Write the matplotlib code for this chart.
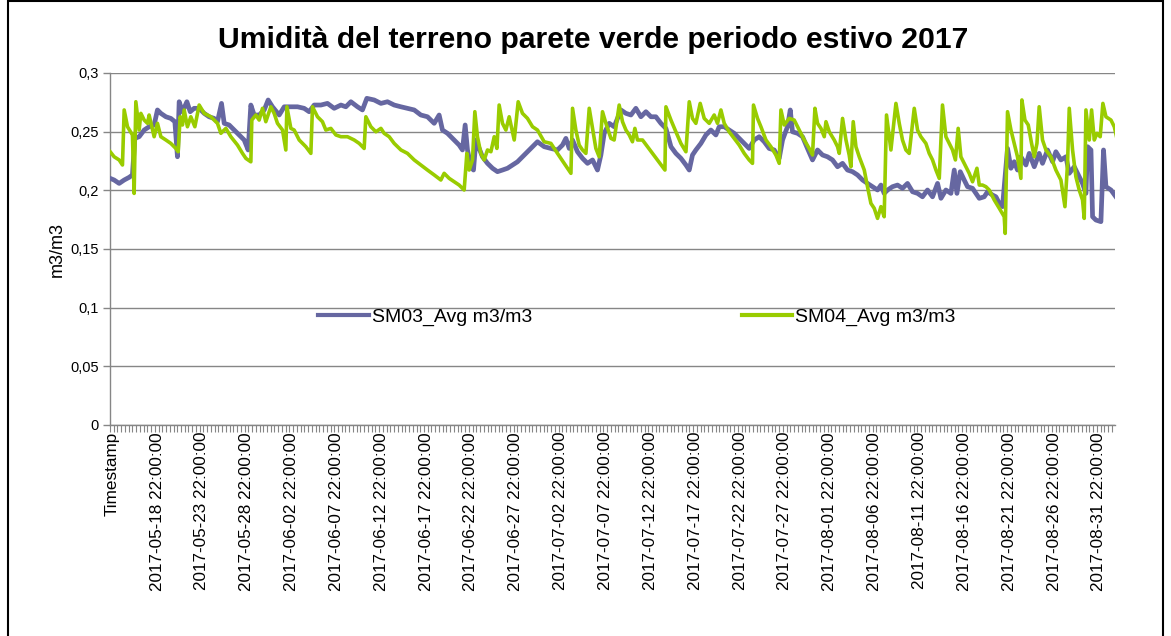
import matplotlib
matplotlib.use("Agg")
import matplotlib.pyplot as plt
from matplotlib.patches import Rectangle

plt.rcParams['font.family'] = ['Liberation Sans', 'DejaVu Sans']

TITLE = "Umidità del terreno parete verde periodo estivo 2017"
Y_LABEL = "m3/m3"
SERIES_NAMES = ["SM03_Avg m3/m3", "SM04_Avg m3/m3"]
SERIES_COLORS = ["#6667a1", "#99cc00"]

# category labels (every 5 days), x measured in days from the "Timestamp" category
X_LABELS = ["Timestamp",
            "2017-05-18 22:00:00", "2017-05-23 22:00:00", "2017-05-28 22:00:00",
            "2017-06-02 22:00:00", "2017-06-07 22:00:00", "2017-06-12 22:00:00",
            "2017-06-17 22:00:00", "2017-06-22 22:00:00", "2017-06-27 22:00:00",
            "2017-07-02 22:00:00", "2017-07-07 22:00:00", "2017-07-12 22:00:00",
            "2017-07-17 22:00:00", "2017-07-22 22:00:00", "2017-07-27 22:00:00",
            "2017-08-01 22:00:00", "2017-08-06 22:00:00", "2017-08-11 22:00:00",
            "2017-08-16 22:00:00", "2017-08-21 22:00:00", "2017-08-26 22:00:00",
            "2017-08-31 22:00:00"]
X_LABEL_DAYS = [0, 5, 10, 15, 20, 25, 30, 35, 40, 45, 50, 55,
                60, 65, 70, 75, 80, 85, 90, 95, 100, 105, 110]

Y_TICKS = [0, 0.05, 0.1, 0.15, 0.2, 0.25, 0.3]
Y_TICK_LABELS = ["0", "0,05", "0,1", "0,15", "0,2", "0,25", "0,3"]

# SM03
sm03_days = [-0.22, 0.22, 0.78, 1.34, 1.90, 2.26, 2.53, 3.01, 3.57, 4.12, 4.68, 5.05,
             5.43, 5.99, 6.54, 6.99, 7.28, 7.47, 7.84, 8.33, 8.70, 9.14, 9.70, 10.26,
             10.81, 11.37, 11.74, 12.19, 12.49, 13.04, 13.60, 14.16, 14.72, 15.16, 15.46,
             15.83, 16.39, 16.95, 17.39, 17.87, 18.62, 19.18, 19.92, 20.66, 21.40, 21.96,
             22.52, 23.27, 24.00, 24.75, 25.50, 26.05, 26.61, 27.35, 27.90, 28.39, 29.21,
             29.96, 30.69, 31.44, 32.19, 32.92, 33.67, 34.41, 35.15, 35.90, 36.45, 36.82,
             37.38, 38.13, 38.68, 39.05, 39.35, 39.61, 39.99, 40.28, 40.55, 40.91, 41.28,
             41.84, 42.40, 42.95, 43.51, 44.07, 44.63, 45.18, 45.74, 46.30, 46.86, 47.41,
             48.16, 48.91, 49.64, 50.20, 50.58, 50.95, 51.32, 51.87, 52.43, 52.99, 53.55,
             54.10, 54.48, 54.85, 55.41, 55.96, 56.71, 57.27, 57.83, 58.38, 58.94, 59.50,
             60.06, 60.61, 61.17, 61.73, 62.29, 62.84, 63.40, 63.96, 64.33, 64.69, 65.07,
             65.63, 66.19, 66.74, 67.30, 67.67, 68.23, 68.78, 69.34, 69.90, 70.46, 71.01,
             71.57, 72.13, 72.69, 73.24, 73.80, 74.36, 74.73, 75.28, 75.59, 75.84, 76.40,
             76.96, 77.51, 78.07, 78.63, 79.19, 79.74, 80.30, 80.86, 81.42, 81.97, 82.53,
             83.09, 83.65, 84.20, 84.76, 85.32, 85.70, 86.06, 86.44, 86.99, 87.55, 88.10,
             88.66, 89.22, 89.78, 90.33, 90.89, 91.45, 92.01, 92.39, 92.94, 93.50, 93.87,
             94.17, 94.54, 94.98, 95.35, 95.91, 96.29, 96.66, 97.21, 97.58, 98.14, 98.52,
             98.89, 99.25, 99.81, 100.19, 100.56, 100.92, 101.30, 101.86, 102.23, 102.79,
             103.34, 103.71, 104.27, 104.83, 105.20, 105.76, 106.32, 106.69, 107.25, 107.80,
             108.17, 108.55, 108.73, 109.11, 109.29, 109.66, 110.22, 110.51, 110.78, 111.34,
             111.89]
sm03_vals = [.2102, .2088, .2059, .2088, .2111, .2131, .2443, .2457, .2514, .2542, .2557, .2685,
             .2656, .2627, .2613, .2585, .2286, .2755, .2670, .2755, .2670, .2699, .2699, .2656,
             .2627, .2613, .2585, .2741, .2571, .2557, .2514, .2472, .2429, .2344, .2727,
             .2642, .2642, .2685, .2770, .2712, .2642, .2712, .2712, .2712, .2699, .2670,
             .2727, .2727, .2741, .2699, .2727, .2712, .2755, .2712, .2685, .2784, .2770,
             .2741, .2755, .2727, .2712, .2699, .2685, .2642, .2627, .2571, .2642, .2514,
             .2486, .2429, .2386, .2344, .2557, .2344, .2201, .2173, .2429, .2357, .2286,
             .2230, .2188, .2159, .2173, .2188, .2216, .2243, .2286, .2329, .2372, .2414,
             .2372, .2357, .2344, .2386, .2443, .2357, .2429, .2329, .2273, .2230, .2259,
             .2173, .2301, .2486, .2571, .2542, .2685, .2656, .2642, .2699, .2627, .2670,
             .2627, .2627, .2571, .2528, .2372, .2315, .2273, .2216, .2173, .2301, .2344,
             .2400, .2472, .2514, .2472, .2542, .2542, .2514, .2486, .2443, .2400, .2357,
             .2429, .2457, .2414, .2357, .2344, .2273, .2429, .2542, .2685, .2499, .2486,
             .2457, .2357, .2259, .2344, .2301, .2286, .2259, .2201, .2230, .2173, .2159,
             .2131, .2088, .2059, .2031, .2003, .2045, .1974, .2003, .2031, .2045, .2017,
             .2059, .1988, .1974, .1945, .2003, .1945, .2059, .1932, .2003, .1974, .2173,
             .1974, .2159, .2088, .2031, .2017, .1974, .1932, .1945, .1988, .1960, .1945,
             .1889, .1861, .2357, .2188, .2244, .2173, .2286, .2216, .2315, .2201,
             .2315, .2230, .2344, .2244, .2329, .2259, .2286, .2145, .2201, .2116,
             .2059, .1974, .2372, .2344, .1775, .1747, .1733, .2344, .2031, .2003,
             .1945]

# SM04
sm04_days = [-0.22, 0.22, 0.78, 1.15, 1.34, 1.71, 2.26, 2.45, 2.64, 3.01, 3.20, 3.57, 3.94,
             4.12, 4.68, 5.05, 5.43, 5.99, 6.54, 7.10, 7.36, 7.58, 7.84, 8.03, 8.39, 8.77,
             9.22, 9.70, 10.26, 11.00, 11.74, 12.12, 12.68, 13.23, 13.97, 14.53, 14.91,
             15.46, 15.57, 16.02, 16.39, 16.76, 17.13, 17.69, 18.06, 18.43, 18.99, 19.36,
             19.48, 19.92, 20.29, 20.85, 21.59, 22.15, 22.33, 22.89, 23.44, 23.82, 24.38,
             24.94, 25.50, 26.23, 26.98, 27.54, 28.09, 28.28, 28.84, 29.40, 29.96, 30.32,
             30.88, 31.44, 32.19, 32.92, 33.67, 34.41, 35.15, 35.90, 36.64, 37.01, 37.57,
             38.13, 38.68, 39.24, 39.54, 39.80, 40.17, 40.43, 40.72, 41.10, 41.47, 41.84,
             42.22, 42.59, 42.89, 43.14, 43.51, 43.89, 44.26, 44.82, 45.26, 45.74, 46.30,
             46.86, 47.41, 48.16, 48.91, 49.64, 50.39, 51.14, 51.32, 51.69, 52.06, 52.43,
             52.81, 53.18, 53.55, 53.92, 54.29, 54.66, 55.04, 55.60, 55.96, 56.52, 56.89,
             57.27, 57.64, 58.00, 58.27, 58.56, 59.12, 59.68, 60.23, 60.79, 61.35, 61.62,
             61.73, 62.29, 62.84, 63.40, 63.96, 64.33, 64.69, 65.07, 65.55, 66.00, 66.56,
             67.11, 67.48, 67.86, 68.23, 68.78, 69.34, 69.90, 70.46, 71.01, 71.38, 71.49,
             71.94, 72.32, 72.88, 73.43, 73.99, 74.36, 74.55, 74.92, 75.47, 76.03, 76.59,
             77.15, 77.70, 78.07, 78.34, 78.63, 79.01, 79.38, 79.57, 79.94, 80.49, 80.86,
             81.05, 81.42, 81.80, 82.16, 82.35, 82.61, 82.91, 83.28, 83.84, 84.20, 84.58,
             84.95, 85.32, 85.70, 86.06, 86.32, 86.81, 87.37, 87.74, 88.10, 88.48, 88.85,
             89.41, 89.78, 90.15, 90.71, 91.08, 91.45, 91.83, 92.20, 92.56, 92.94, 93.31,
             93.68, 94.00, 94.31, 94.61, 94.98, 95.54, 95.91, 96.40, 96.66, 97.02, 97.40,
             97.77, 98.33, 98.89, 99.44, 99.55, 99.81, 100.19, 100.56, 100.92, 101.30,
             101.41, 101.75, 102.12, 102.49, 102.79, 103.09, 103.34, 103.71, 104.09, 104.65,
             105.20, 105.76, 106.21, 106.50, 106.69, 107.06, 107.43, 107.80, 108.17, 108.36,
             108.55, 108.92, 109.18, 109.48, 109.78, 110.14, 110.44, 110.78, 111.34, 111.71,
             111.96]
sm04_vals = [.2329, .2286, .2259, .2216, .2685, .2542, .2472, .1974, .2755, .2514, .2656, .2599, .2571,
             .2642, .2457, .2571, .2457, .2429, .2400, .2357, .2329, .2627, .2557, .2685, .2542, .2627,
             .2542, .2727, .2656, .2627, .2571, .2486, .2528, .2457, .2386, .2315, .2272,
             .2243, .2599, .2642, .2599, .2699, .2585, .2712, .2656, .2571, .2514, .2344,
             .2712, .2528, .2514, .2429, .2372, .2315, .2712, .2627, .2585, .2514, .2528,
             .2472, .2457, .2457, .2429, .2400, .2357, .2627, .2542, .2499, .2528, .2486,
             .2457, .2400, .2344, .2315, .2259, .2216, .2173, .2131, .2088, .2145, .2102,
             .2073, .2045, .2003, .2315, .2173, .2259, .2670, .2457, .2315, .2259, .2344,
             .2329, .2457, .2357, .2727, .2571, .2514, .2627, .2429, .2755, .2656, .2613,
             .2542, .2514, .2414, .2400, .2315, .2230, .2145, .2699, .2514, .2386, .2344,
             .2315, .2699, .2528, .2357, .2286, .2670, .2571, .2443, .2429, .2727, .2585,
             .2514, .2472, .2414, .2528, .2429, .2429, .2372, .2315, .2259, .2201, .2173,
             .2712, .2599, .2499, .2400, .2329, .2755, .2613, .2571, .2741, .2613, .2571,
             .2642, .2571, .2685, .2571, .2499, .2443, .2386, .2315, .2259, .2230, .2727,
             .2613, .2542, .2429, .2372, .2301, .2230, .2685, .2557, .2613, .2599, .2514,
             .2429, .2357, .2301, .2699, .2571, .2528, .2457, .2585, .2499, .2429, .2372,
             .2315, .2613, .2429, .2301, .2201, .2585, .2372, .2286, .2173, .2031, .1889,
             .1847, .1761, .1861, .1775, .2642, .2344, .2741, .2571, .2429, .2344, .2315,
             .2699, .2514, .2457, .2400, .2315, .2259, .2173, .2102, .2727, .2457, .2400,
             .2344, .2259, .2528, .2286, .2230, .2145, .2073, .2188, .2045, .2045, .2031,
             .2003, .1918, .1847, .1775, .1633, .2670, .2514, .2400, .2286, .2102,
             .2770, .2599, .2557, .2400, .2286, .2400, .2712, .2429, .2344, .2286,
             .2173, .2088, .1861, .2230, .2699, .2344, .2116, .2003, .1918, .1761,
             .2685, .2429, .2685, .2429, .2486, .2457, .2741, .2627, .2599, .2542,
             .2457]

GRID = "#868686"
X_MIN, X_MAX = -0.24, 111.79

fig = plt.figure(figsize=(11.71, 6.36), dpi=100)
ax = fig.add_axes([110 / 1171, 1 - 425 / 636, 1005 / 1171, 352 / 636])

ax.plot(sm03_days, sm03_vals, color=SERIES_COLORS[0], lw=3.4, solid_joinstyle='round',
        label=SERIES_NAMES[0], zorder=3)
ax.plot(sm04_days, sm04_vals, color=SERIES_COLORS[1], lw=2.6, solid_joinstyle='round',
        label=SERIES_NAMES[1], zorder=4)

ax.set_xlim(X_MIN, X_MAX)
ax.set_ylim(0, 0.3)

ax.set_yticks(Y_TICKS)
ax.set_yticklabels(Y_TICK_LABELS, fontsize=10.5)
ax.set_xticks(X_LABEL_DAYS)
ax.set_xticklabels(X_LABELS, rotation=90, fontsize=12.3, ha='center', va='top')

# small tick marks every 10 hourly categories
minor = []
t = X_MIN
while t <= X_MAX + 1e-6:
    minor.append(t)
    t += 10 / 24
ax.set_xticks(minor, minor=True)

ax.tick_params(axis='x', which='major', length=0, pad=5)
ax.tick_params(axis='x', which='minor', length=5, color=GRID, width=0.8)
ax.tick_params(axis='y', length=5, color=GRID, width=1, pad=3)

ax.yaxis.grid(True, color=GRID, lw=1)
ax.set_axisbelow(True)
for s in ['top', 'right']:
    ax.spines[s].set_visible(False)
for s in ['left', 'bottom']:
    ax.spines[s].set_color(GRID)
    ax.spines[s].set_linewidth(1)

fig.text(57 / 1171, 1 - 249 / 636, Y_LABEL, rotation=90, ha='center', va='center',
         fontsize=13)

fig.text(593 / 1171, 1 - 40 / 636, TITLE, ha='center', va='center',
         fontsize=21.7, fontweight='bold')

leg = ax.legend(loc='center', bbox_to_anchor=(637 / 1171, 1 - 317 / 636),
                bbox_transform=fig.transFigure, ncol=2, frameon=False,
                prop={'size': 14}, handlelength=2.6,
                handletextpad=0.15, columnspacing=10.8)
for line in leg.get_lines():
    line.set_linewidth(3)

# chart area border
fig.add_artist(Rectangle((8 / 1171, -0.02), (1163 - 8) / 1171, 1.02 - 1 / 636,
                         transform=fig.transFigure, fill=False, ec='black', lw=1.5))

fig.savefig("out.png", dpi=100)
